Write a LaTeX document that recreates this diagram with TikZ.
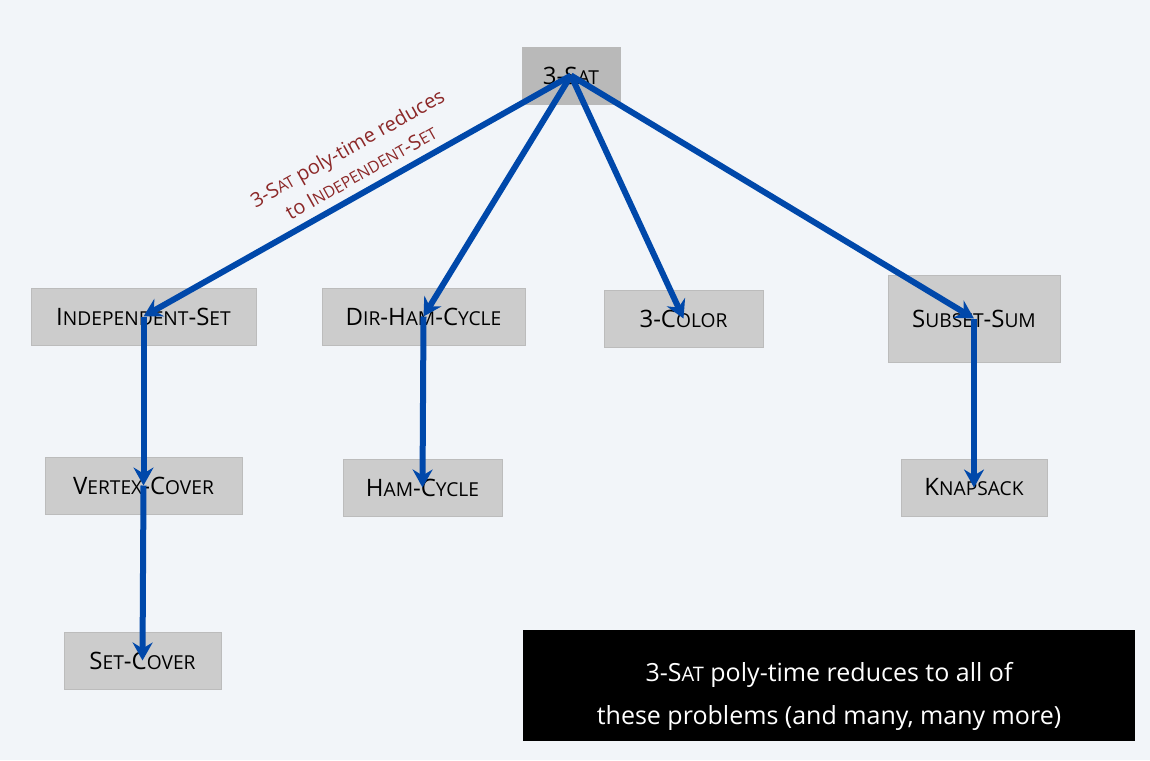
\documentclass[tikz,border=0pt]{standalone}
\usepackage{fontspec}
\setmainfont{Open Sans}
\usetikzlibrary{arrows.meta}
\definecolor{bgc}{RGB}{242,245,249}
\definecolor{boxc}{RGB}{204,204,204}
\definecolor{topc}{RGB}{185,185,185}
\definecolor{arrc}{RGB}{0,72,170}
\definecolor{redc}{RGB}{140,40,40}
\makeatletter
\newcommand\mysc[1]{{\fontsize{\strip@pt\dimexpr0.8\dimexpr\f@size pt\relax\relax}{0}\selectfont #1}}
\makeatother
\tikzset{
  prob/.style={fill=boxc, draw=boxc!92!black, line width=0.4pt, inner sep=0pt, font=\fontsize{24}{28}\selectfont, text=black},
  red/.style={arrc, line width=6pt, -{Stealth[length=18pt,width=20pt,inset=6pt]}},
}
\begin{document}
\begin{tikzpicture}[x=1pt,y=-1pt]
\fill[bgc] (0,0) rectangle (1150,760);
\useasboundingbox (0,0) rectangle (1150,760);
\node[prob, fill=topc, draw=topc, minimum width=98pt, minimum height=57pt] (sat) at (571,75.5) {3-S\mysc{AT}};
\node[prob, minimum width=225pt, minimum height=57pt] (is) at (143.5,316.5) {I\mysc{NDEPENDENT}-S\mysc{ET}};
\node[prob, minimum width=203pt, minimum height=57pt] (dhc) at (423.5,316.5) {D\mysc{IR}-H\mysc{AM}-C\mysc{YCLE}};
\node[prob, minimum width=159pt, minimum height=57pt] (col) at (683.5,318.5) {3-C\mysc{OLOR}};
\node[prob, minimum width=172pt, minimum height=87pt] (ss) at (974,318.5) {S\mysc{UBSET}-S\mysc{UM}};
\node[prob, minimum width=197pt, minimum height=57pt] (vc) at (143.5,485.5) {V\mysc{ERTEX}-C\mysc{OVER}};
\node[prob, minimum width=159pt, minimum height=57pt] (hc) at (422.5,487.5) {H\mysc{AM}-C\mysc{YCLE}};
\node[prob, minimum width=146pt, minimum height=57pt] (kn) at (974,487.5) {K\mysc{NAPSACK}};
\node[prob, minimum width=157pt, minimum height=57pt] (sc) at (142.5,660.5) {S\mysc{ET}-C\mysc{OVER}};
\node[fill=black, minimum width=612pt, minimum height=111pt, inner sep=0pt] (note) at (829,685.5) {};
\node[text=white, align=center, inner sep=0pt, font=\fontsize{25}{43}\selectfont] (notetext) at (829,696) {3-S\mysc{AT} poly-time reduces to all of\\these problems (and many, many more)};
\node[text=redc, rotate=29.4, align=center, font=\fontsize{20}{28}\selectfont, inner sep=0pt] (lab) at (354,160) {3-S\mysc{AT} poly-time reduces\\to I\mysc{NDEPENDENT}-S\mysc{ET}};
\draw[red] (sat.center) -- (is.center);
\draw[red] (sat.center) -- (dhc.center);
\draw[red] (sat.center) -- (col.center);
\draw[red] (sat.center) -- (ss.center);
\draw[red] (is.center) -- (vc.center);
\draw[red] (vc.center) -- (sc.center);
\draw[red] (dhc.center) -- (hc.center);
\draw[red] (ss.center) -- (kn.center);
\end{tikzpicture}
\end{document}
